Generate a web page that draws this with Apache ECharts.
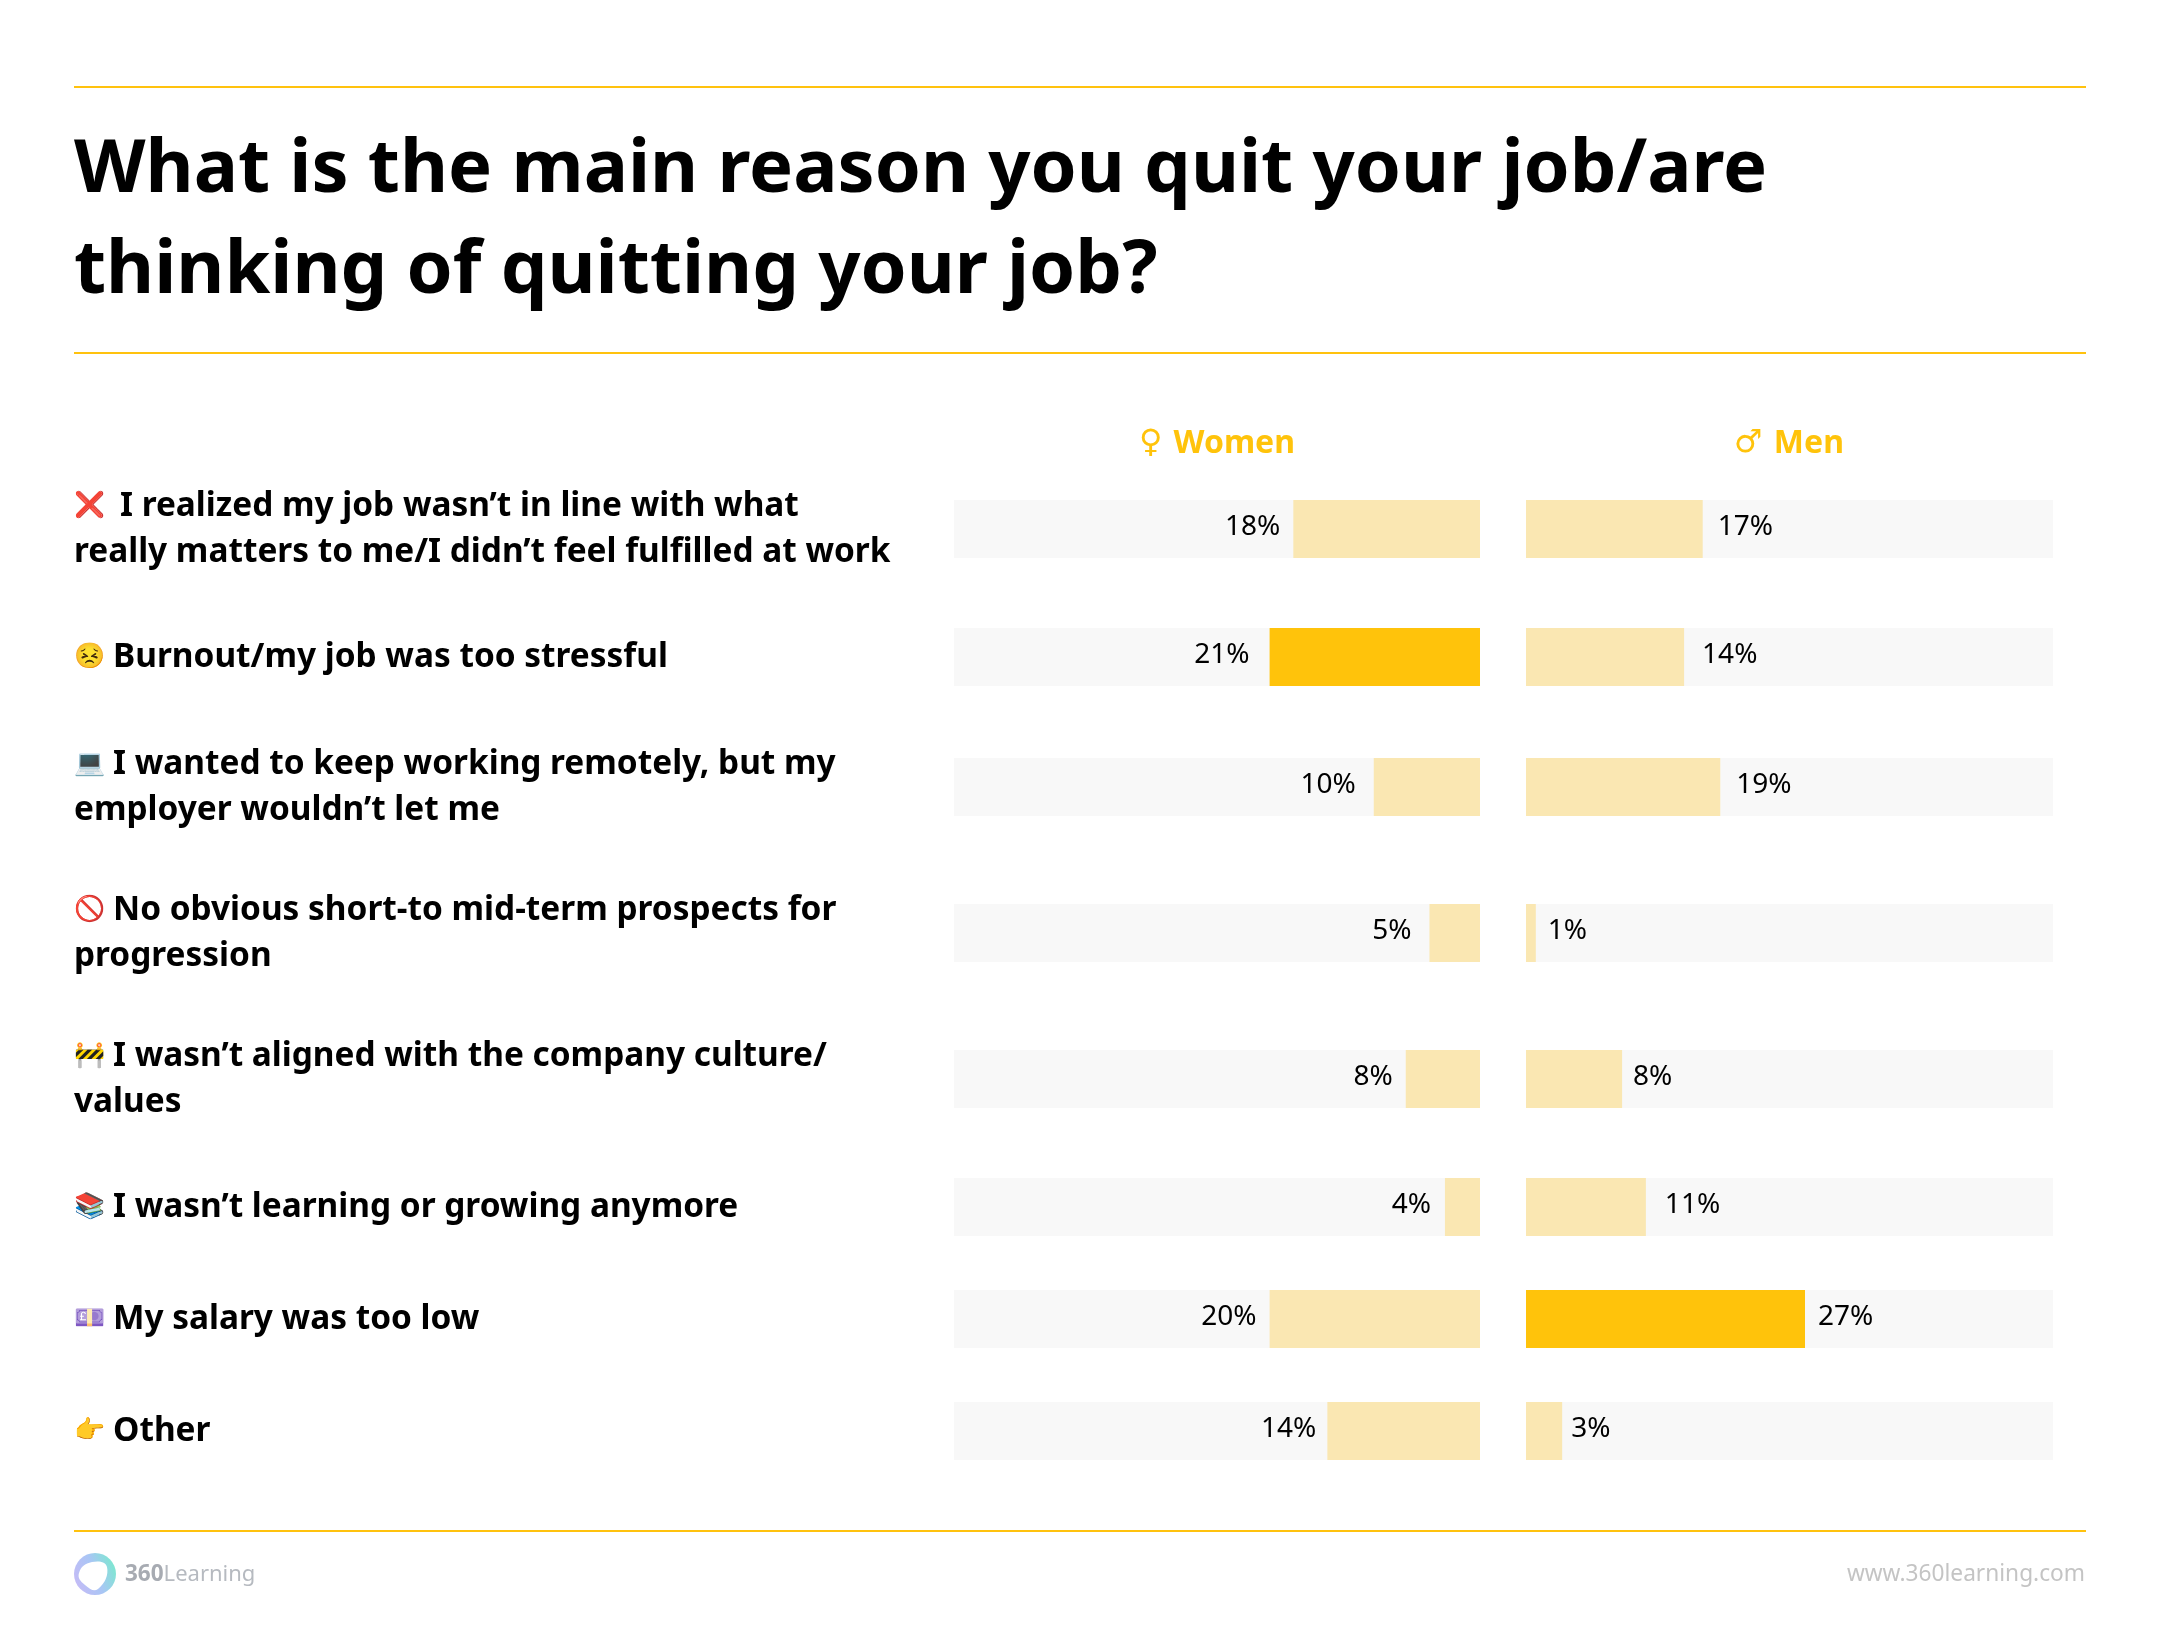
<!DOCTYPE html>
<html><head><meta charset="utf-8">
<style>html,body{margin:0;padding:0;background:#fff}#c{width:2160px;height:1640px}</style>
<script src="https://cdn.jsdelivr.net/npm/echarts@6/dist/echarts.min.js"></script>
</head><body><div id="c"></div>
<script>
const titleText = 'What is the main reason you quit your job/are\nthinking of quitting your job?';
const icons = ['❌','😣','💻','🚫','🚧','📚','💷','👉'];
const categories = [
 'I realized my job wasn’t in line with what\nreally matters to me/I didn’t feel fulfilled at work',
 'Burnout/my job was too stressful',
 'I wanted to keep working remotely, but my\nemployer wouldn’t let me',
 'No obvious short-to mid-term prospects for\nprogression',
 'I wasn’t aligned with the company culture/\nvalues',
 'I wasn’t learning or growing anymore',
 'My salary was too low',
 'Other'
];
const womenLabels = ['18%','21%','10%','5%','8%','4%','20%','14%'];
const menLabels   = ['17%','14%','19%','1%','8%','11%','27%','3%'];
// bar lengths as drawn in the picture (they differ slightly from the printed labels)
const womenBars = [18.1,20.4,10.3,4.9,7.2,3.4,20.4,14.8];
const menBars   = [17.1,15.3,18.8,0.95,9.3,11.6,27,3.5];
const womenHighlight = 1, menHighlight = 6;
const axisMax = 51;

// layout
const rowTops = [500,628,758,904,1050,1178,1290,1402];
const rowH = 58;
const womenGap = [13,20,18,18,13,14,13,11];
const menGap   = [15,18,16,12,11,19,13,9];
const iconW    = [46,39,39,39,39,39,39,39];
const W = {left:954,width:526}, M = {left:1526,width:527};
const strong='#FFC30B', pale='#FAE7B2', track='#F8F8F8';
const sans='"Noto Sans", "Open Sans", sans-serif';

const grid=[],xAxis=[],yAxis=[],series=[];
function addRow(i,side){
  const women = side===W;
  const idx = grid.length;
  grid.push({left:side.left,top:rowTops[i],width:side.width,height:rowH});
  xAxis.push({gridIndex:idx,type:'value',min:0,max:axisMax,inverse:women,show:false});
  const parts = categories[i].split('\n');
  const rich = {
    e:{fontSize:25,width:iconW[i],align:'left',lineHeight:46,fontFamily:sans},
    t:{fontFamily:sans,fontWeight:700,fontSize:33.4,lineHeight:46,color:'#000'}
  };
  yAxis.push({gridIndex:idx,type:'category',data:[categories[i]],
    axisLine:{show:false},axisTick:{show:false},splitLine:{show:false},
    axisLabel: women ? {show:true,align:'left',margin:880,rich,
       formatter:()=>'{e|'+icons[i]+'}{t|'+parts[0]+'}'+(parts[1]?'\n{t|'+parts[1]+'}':'')} : {show:false}});
  const hi = women ? womenHighlight : menHighlight;
  series.push({type:'bar',xAxisIndex:idx,yAxisIndex:idx,barWidth:'100%',silent:true,
    showBackground:true,backgroundStyle:{color:track},
    data:[{value:(women?womenBars:menBars)[i],
      itemStyle:{color:i===hi?strong:pale},
      label:{show:true,position:women?'left':'right',distance:(women?womenGap:menGap)[i],
        offset:[0,-2],formatter:(women?womenLabels:menLabels)[i],
        color:'#000',fontFamily:sans,fontSize:28}}]});
}
for(let i=0;i<categories.length;i++){addRow(i,W);addRow(i,M);}

const header=(sym,name,x)=>({text:'{s|'+sym+' }{n|'+name+'}',left:x,top:424,padding:0,textAlign:'center',
  textStyle:{rich:{s:{fontFamily:'"DejaVu Sans"',fontSize:32,color:strong,lineHeight:40},
                   n:{fontFamily:sans,fontWeight:700,fontSize:32,color:strong,lineHeight:40}}}});
const rule=y=>({type:'line',shape:{x1:74,y1:y,x2:2086,y2:y},style:{stroke:'#FFC20E',lineWidth:2},silent:true});
const chart=echarts.init(document.getElementById('c'),null,{renderer:'canvas'});
chart.setOption({
  animation:false,backgroundColor:'#fff',
  title:[
    {text:titleText,left:74,top:120,padding:0,textStyle:{fontFamily:sans,fontWeight:700,fontSize:74,lineHeight:101,color:'#000'}},
    header('♀','Women',1217),
    header('♂','Men',1789),
    {text:'www.360learning.com',right:75,top:1563,padding:0,textStyle:{fontFamily:sans,fontWeight:400,fontSize:22.7,color:'#c4c4c4'}},
    {text:'{a|360}{b|Learning}',left:125,top:1563,padding:0,textStyle:{rich:{
       a:{fontFamily:sans,fontWeight:700,fontSize:22.5,color:'#a7abb2'},
       b:{fontFamily:sans,fontWeight:400,fontSize:22,color:'#b6bac0'}}}}
  ],
  grid,xAxis,yAxis,series,
  graphic:[rule(87),rule(353),rule(1531),
    {type:'circle',shape:{cx:95,cy:1574,r:21},silent:true,
     style:{fill:new echarts.graphic.LinearGradient(0,0.8,1,0.4,[
       {offset:0,color:'#C6BAF6'},{offset:.55,color:'#A9C6F5'},{offset:1,color:'#7FE6D2'}])}},
    {type:'polygon',shape:{points:[[79,1573],[92,1562],[107,1567],[98,1589],[85,1585]],smooth:0.5},silent:true,
     style:{fill:'#fff'}}
  ]
});
</script></body></html>
